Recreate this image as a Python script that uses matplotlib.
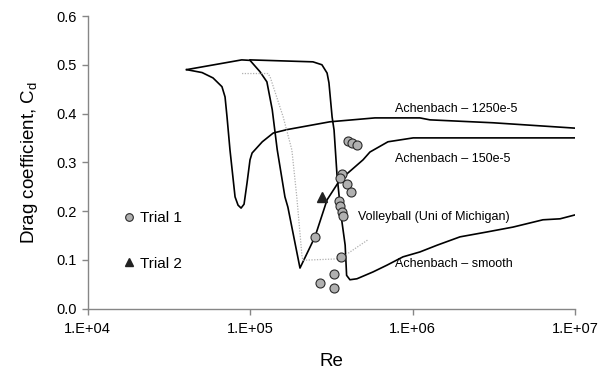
#!/usr/bin/env python3
"""Drag coefficient against Reynolds number: Achenbach sphere curves plus volleyball trials."""

from __future__ import annotations

import matplotlib

matplotlib.use("Agg")
import matplotlib.pyplot as plt

# Achenbach, smooth sphere
smooth_re = [1.0e5, 2.44e5, 2.77e5, 2.98e5, 3.06e5, 3.20e5, 3.29e5, 3.43e5, 3.63e5,
             3.85e5, 3.93e5, 4.12e5, 4.55e5, 5.71e5, 6.97e5, 8.74e5, 1.11e6, 1.42e6,
             1.96e6, 2.87e6, 4.15e6, 6.35e6, 8.09e6, 1.0e7]
smooth_cd = [0.510, 0.506, 0.500, 0.483, 0.463, 0.393, 0.366, 0.274, 0.192,
             0.130, 0.068, 0.059, 0.061, 0.075, 0.089, 0.106, 0.116, 0.130,
             0.147, 0.157, 0.167, 0.182, 0.184, 0.192]

# Achenbach, roughness 150e-5
rough150_re = [4.07e4, 8.89e4, 1.0e5, 1.15e5, 1.27e5, 1.37e5, 1.47e5, 1.64e5, 1.71e5,
               2.03e5, 2.51e5, 2.98e5, 3.58e5, 4.20e5, 4.96e5, 5.47e5, 7.06e5, 1.01e6, 1.0e7]
rough150_cd = [0.490, 0.510, 0.509, 0.486, 0.465, 0.408, 0.326, 0.229, 0.208,
               0.083, 0.147, 0.223, 0.264, 0.284, 0.305, 0.321, 0.342, 0.350, 0.350]

# Achenbach, roughness 1250e-5
rough1250_re = [4.07e4, 5.07e4, 5.92e4, 6.72e4, 7.02e4, 7.22e4, 7.53e4, 8.09e4, 8.44e4,
                8.81e4, 9.19e4, 9.59e4, 1.0e5, 1.03e5, 1.19e5, 1.39e5, 1.69e5, 3.10e5,
                5.87e5, 1.11e6, 1.28e6, 3.13e6, 1.0e7]
rough1250_cd = [0.490, 0.484, 0.473, 0.455, 0.434, 0.393, 0.325, 0.229, 0.212,
                0.206, 0.214, 0.258, 0.305, 0.319, 0.342, 0.360, 0.367, 0.383,
                0.391, 0.391, 0.387, 0.381, 0.370]

# Volleyball, University of Michigan
volley_re = [8.93e4, 1.29e5, 1.33e5, 1.60e5, 1.81e5, 1.94e5, 2.09e5, 2.12e5, 3.58e5, 5.32e5]
volley_cd = [0.482, 0.482, 0.475, 0.393, 0.325, 0.229, 0.106, 0.099, 0.102, 0.141]

# measured trials
trial1_re = [4.01e5, 4.25e5, 4.55e5, 3.68e5, 3.58e5, 3.95e5, 4.19e5, 3.53e5,
             3.58e5, 3.68e5, 3.73e5, 2.51e5, 3.63e5, 3.29e5, 2.70e5, 3.29e5]
trial1_cd = [0.344, 0.340, 0.336, 0.276, 0.268, 0.256, 0.239, 0.221,
             0.210, 0.198, 0.190, 0.147, 0.106, 0.071, 0.052, 0.042]
trial2_re = [2.77e5]
trial2_cd = [0.229]

x_ticks = [1e4, 1e5, 1e6, 1e7]
x_tick_labels = ["1.E+04", "1.E+05", "1.E+06", "1.E+07"]
y_ticks = [0.0, 0.1, 0.2, 0.3, 0.4, 0.5, 0.6]

curve_labels = [
    ("Achenbach \u2013 1250e-5", 7.8e5, 0.404),
    ("Achenbach \u2013 150e-5", 7.8e5, 0.301),
    ("Volleyball (Uni of Michigan)", 4.62e5, 0.182),
    ("Achenbach \u2013 smooth", 7.8e5, 0.085),
]


def main() -> int:
    plt.rcParams["font.family"] = ["Liberation Sans", "DejaVu Sans"]

    fig = plt.figure(figsize=(6.09, 3.75), dpi=100)
    ax = fig.add_axes([0.1437, 0.1773, 0.8005, 0.78])

    line_kw = dict(color="black", linewidth=1.2)
    ax.plot(smooth_re, smooth_cd, **line_kw)
    ax.plot(rough150_re, rough150_cd, **line_kw)
    ax.plot(rough1250_re, rough1250_cd, **line_kw)
    ax.plot(volley_re, volley_cd, color="#b0b0b0", linewidth=0.9, linestyle=(0, (1, 1.2)))

    ax.plot(trial1_re, trial1_cd, linestyle="none", marker="o", markersize=6.5,
            markerfacecolor="#b0b0b0", markeredgecolor="#2a2a2a", markeredgewidth=0.8,
            label="Trial 1")
    ax.plot(trial2_re, trial2_cd, linestyle="none", marker="^", markersize=7.5,
            markerfacecolor="#222222", markeredgecolor="#222222", label="Trial 2")

    for text, re_val, cd_val in curve_labels:
        ax.text(re_val, cd_val, text, fontsize=9, ha="left", va="baseline")

    ax.set_xscale("log")
    ax.set_xlim(1e4, 1e7)
    ax.set_ylim(0, 0.6)
    ax.set_xticks(x_ticks)
    ax.set_xticklabels(x_tick_labels)
    ax.xaxis.set_minor_locator(matplotlib.ticker.NullLocator())
    ax.set_yticks(y_ticks)
    ax.set_yticklabels([f"{v:.1f}" for v in y_ticks])

    for side in ("top", "right"):
        ax.spines[side].set_visible(False)
    for side in ("left", "bottom"):
        ax.spines[side].set_color("#868686")
        ax.spines[side].set_linewidth(1.0)
    ax.tick_params(direction="out", length=4, width=1.0, color="#868686",
                   labelsize=10.5, pad=4)
    ax.tick_params(axis="x", pad=6)

    ax.set_xlabel("Re", fontsize=13.5)
    ax.xaxis.set_label_coords(0.5, -0.152)
    ax.set_ylabel("Drag coefficient, C$_\\mathregular{d}$", fontsize=13.5)
    ax.yaxis.set_label_coords(-0.097, 0.5)

    ax.legend(loc="center left", bbox_to_anchor=(0.0697, 0.231), frameon=False,
              fontsize=11, handlelength=1.0, handletextpad=0.2, borderpad=0,
              borderaxespad=0, labelspacing=2.05, markerscale=0.85)

    fig.savefig("out.png", dpi=100)
    plt.close(fig)
    return 0


if __name__ == "__main__":
    raise SystemExit(main())
